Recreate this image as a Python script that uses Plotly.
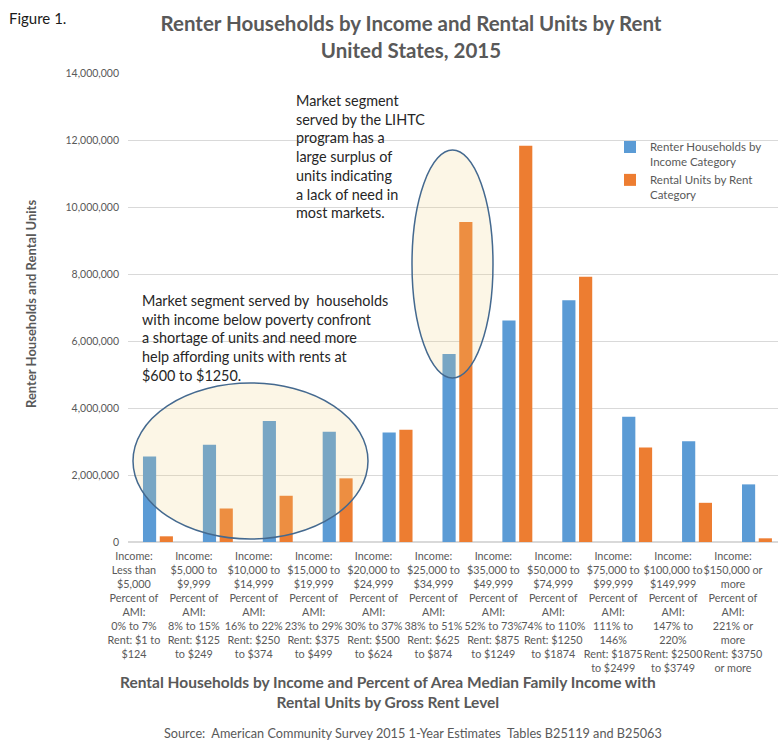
import plotly.graph_objects as go

# Income / rent categories (x axis)
categories = [
    "Income:<br>Less than<br>$5,000<br>Percent of<br>AMI:<br>0% to 7%<br>Rent: $1 to<br>$124",
    "Income:<br>$5,000 to<br>$9,999<br>Percent of<br>AMI:<br>8% to 15%<br>Rent: $125<br>to $249",
    "Income:<br>$10,000 to<br>$14,999<br>Percent of<br>AMI:<br>16% to 22%<br>Rent: $250<br>to $374",
    "Income:<br>$15,000 to<br>$19,999<br>Percent of<br>AMI:<br>23% to 29%<br>Rent: $375<br>to $499",
    "Income:<br>$20,000 to<br>$24,999<br>Percent of<br>AMI:<br>30% to 37%<br>Rent: $500<br>to $624",
    "Income:<br>$25,000 to<br>$34,999<br>Percent of<br>AMI:<br>38% to 51%<br>Rent: $625<br>to $874",
    "Income:<br>$35,000 to<br>$49,999<br>Percent of<br>AMI:<br>52% to 73%<br>Rent: $875<br>to $1249",
    "Income:<br>$50,000 to<br>$74,999<br>Percent of<br>AMI:<br>74% to 110%<br>Rent: $1250<br>to $1874",
    "Income:<br>$75,000 to<br>$99,999<br>Percent of<br>AMI:<br>111% to<br>146%<br>Rent: $1875<br>to $2499",
    "Income:<br>$100,000 to<br>$149,999<br>Percent of<br>AMI:<br>147% to<br>220%<br>Rent: $2500<br>to $3749",
    "Income:<br>$150,000 or<br>more<br>Percent of<br>AMI:<br>221% or<br>more<br>Rent: $3750<br>or more",
]

# Series values
renter_households = [2550000, 2900000, 3610000, 3290000, 3270000, 5610000,
                     6610000, 7220000, 3740000, 3010000, 1720000]
rental_units = [170000, 1000000, 1380000, 1900000, 3350000, 9550000,
                11830000, 7920000, 2820000, 1170000, 110000]

series_names = ["Renter Households by<br>Income Category",
                "Rental Units by Rent<br>Category"]

y_ticks = [0, 2000000, 4000000, 6000000, 8000000, 10000000, 12000000, 14000000]

BLUE = "#5b9bd5"
ORANGE = "#ed7d31"
GREY = "#595959"
FONT = "Lato"

W, H = 778, 744
ML, MR, MT, MB = 128, 0, 73, 202
PW, PH = W - ML - MR, H - MT - MB


def px_x(px):
    return (px - ML) / PW


def px_y(py):
    return (H - MB - py) / PH


fig = go.Figure()
fig.add_trace(go.Bar(x=categories, y=renter_households, name=series_names[0],
                     marker=dict(color=BLUE, line=dict(width=0)),
                     width=0.22, offset=-0.25))
fig.add_trace(go.Bar(x=categories, y=rental_units, name=series_names[1],
                     marker=dict(color=ORANGE, line=dict(width=0)),
                     width=0.22, offset=0.03))

# Highlight ellipses over the two market segments
ellipse_fill = "rgba(242,208,128,0.2)"
ellipse_line = dict(color="#44698f", width=1.5)
fig.add_shape(type="circle", xref="paper", yref="paper",
              x0=px_x(133), x1=px_x(368), y0=px_y(539), y1=px_y(383),
              fillcolor=ellipse_fill, line=ellipse_line, layer="above")
fig.add_shape(type="circle", xref="paper", yref="paper",
              x0=px_x(412), x1=px_x(493), y0=px_y(378), y1=px_y(150),
              fillcolor=ellipse_fill, line=ellipse_line, layer="above")

note_font = dict(family=FONT, size=14.4, color="#262626")
fig.add_annotation(
    text="Market segment served by  households<br>with income below poverty confront"
         "<br>a shortage of units and need more<br>help affording units with rents at"
         "<br>$600 to $1250.",
    xref="paper", yref="paper", x=px_x(140), y=px_y(290),
    xanchor="left", yanchor="top", align="left", showarrow=False, font=note_font)
fig.add_annotation(
    text="Market segment<br>served by the LIHTC<br>program has a<br>large surplus of"
         "<br>units indicating<br>a lack of need in<br>most markets.",
    xref="paper", yref="paper", x=px_x(294), y=px_y(90),
    xanchor="left", yanchor="top", align="left", showarrow=False, font=note_font)

# Figure label, axis titles and source
fig.add_annotation(text="Figure 1.", xref="paper", yref="paper",
                   x=px_x(7), y=px_y(18), xanchor="left", yanchor="middle",
                   showarrow=False, font=dict(family=FONT, size=15, color="#1a1a1a"))
fig.add_annotation(text="<b>Renter Households and Rental Units</b>", textangle=-90,
                   xref="paper", yref="paper", x=px_x(31), y=px_y(304),
                   xanchor="center", yanchor="middle", showarrow=False,
                   font=dict(family=FONT, size=13, color=GREY))
fig.add_annotation(text="<b>Rental Households by Income and Percent of Area Median Family Income with"
                        "<br>Rental Units by Gross Rent Level</b>",
                   xref="paper", yref="paper", x=px_x(388), y=px_y(692),
                   xanchor="center", yanchor="middle", showarrow=False,
                   font=dict(family=FONT, size=15.5, color=GREY))
fig.add_annotation(text="Source:  American Community Survey 2015 1-Year Estimates  Tables B25119 and B25063",
                   xref="paper", yref="paper", x=px_x(413), y=px_y(733),
                   xanchor="center", yanchor="middle", showarrow=False,
                   font=dict(family=FONT, size=12.7, color=GREY))

fig.update_layout(
    width=W, height=H,
    margin=dict(l=ML, r=MR, t=MT, b=MB, autoexpand=False),
    paper_bgcolor="white", plot_bgcolor="white",
    barmode="overlay",
    font=dict(family=FONT, color=GREY),
    title=dict(text="<b>Renter Households by Income and Rental Units by Rent<br>United States, 2015</b>",
               x=411 / W, xanchor="center", y=1 - 31 / H, yanchor="middle",
               font=dict(family=FONT, size=20.5, color=GREY)),
    legend=dict(xref="container", yref="container", x=610 / W, y=1 - 133 / H,
                xanchor="left", yanchor="top", valign="top",
                font=dict(family=FONT, size=11.5, color=GREY),
                bgcolor="rgba(0,0,0,0)", tracegroupgap=0),
    showlegend=True,
)
fig.update_xaxes(type="category", range=[-0.5, (W - ML) / 59.9 - 0.5],
                 showgrid=False, showline=True, linecolor="#d9d9d9", linewidth=1,
                 ticks="", ticklabelshift=-24, ticklabelstandoff=4, tickangle=0,
                 automargin=False,
                 tickfont=dict(family=FONT, size=10.8, color=GREY))
fig.update_yaxes(range=[0, 14000000], tickvals=y_ticks, tickformat=",d",
                 showgrid=True, gridcolor="#d9d9d9", gridwidth=1,
                 zeroline=True, zerolinecolor="#d9d9d9", showline=False,
                 ticks="", ticklabelstandoff=8, automargin=False,
                 tickfont=dict(family=FONT, size=10.5, color=GREY))

fig.write_html("out.html")
